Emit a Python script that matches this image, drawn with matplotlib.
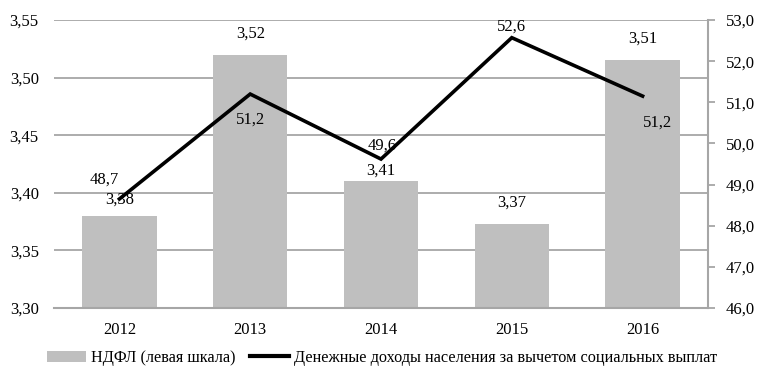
import matplotlib
matplotlib.use("Agg")
import matplotlib.pyplot as plt
from matplotlib.lines import Line2D
from matplotlib.patches import Patch

years = ["2012", "2013", "2014", "2015", "2016"]
ndfl = [3.38, 3.52, 3.41, 3.373, 3.515]
ndfl_labels = ["3,38", "3,52", "3,41", "3,37", "3,51"]
income = [48.65, 51.2, 49.62, 52.57, 51.15]
income_labels = ["48,7", "51,2", "49,6", "52,6", "51,2"]
left_ticks = [3.30, 3.35, 3.40, 3.45, 3.50, 3.55]
right_ticks = [46, 47, 48, 49, 50, 51, 52, 53]

plt.rcParams['font.family'] = ['Liberation Serif', 'DejaVu Serif']
plt.rcParams['font.size'] = 12

fig = plt.figure(figsize=(7.64, 3.80), dpi=100)
ax = fig.add_axes([54/764, 1 - 308/380, (708-54)/764, (308-20)/380])
x = list(range(len(years)))
grid_c = "#A6A6A6"

ax.bar(x, [v - 3.30 for v in ndfl], bottom=3.30, width=0.57, color="#BFBFBF", zorder=2)
ax.set_ylim(3.30, 3.55)
ax.set_xlim(-0.5, 4.5)
ax.set_yticks(left_ticks)
ax.set_yticklabels([f"{t:.2f}".replace(".", ",") for t in left_ticks])
ax.set_xticks(x)
ax.set_xticklabels(years)
ax.tick_params(axis="x", length=0, pad=10)
ax.tick_params(axis="y", length=0, pad=11)
for y in left_ticks[1:]:
    ax.axhline(y, color=grid_c, lw=1.3, zorder=1)
for s in ["top", "left", "right"]:
    ax.spines[s].set_visible(False)
ax.spines["bottom"].set_color(grid_c)
ax.spines["bottom"].set_linewidth(1.5)

# bar label offsets (pixels, centre of text above bar top)
bar_off = [16, 21, 11, 21, 22]
for xi, v, lab, off in zip(x, ndfl, ndfl_labels, bar_off):
    ax.annotate(lab, (xi, v), xytext=(0, off), textcoords="offset pixels",
                ha="center", va="center", zorder=5)

ax2 = ax.twinx()
ax2.plot(x, income, color="black", lw=2.6, zorder=4, solid_joinstyle="miter")
ax2.set_ylim(46, 53)
ax2.set_yticks(right_ticks)
ax2.set_yticklabels([f"{t:.1f}".replace(".", ",") for t in right_ticks])
ax2.tick_params(axis="y", length=5, width=1.3, color=grid_c, pad=8, direction="out")
for s in ["top", "left", "bottom"]:
    ax2.spines[s].set_visible(False)
ax2.spines["right"].set_color(grid_c)
ax2.spines["right"].set_linewidth(1.5)

line_off = [(-15, 19), (0, -26), (1, 13), (0, 11), (15, -27)]
for xi, v, lab, off in zip(x, income, income_labels, line_off):
    ax2.annotate(lab, (xi, v), xytext=off, textcoords="offset pixels",
                 ha="center", va="center", zorder=6)

handles = [Patch(facecolor="#BFBFBF", edgecolor="none"),
           Line2D([0], [0], color="black", lw=3)]
fig.legend(handles, ["НДФЛ (левая шкала)", "Денежные доходы населения за вычетом социальных выплат"],
           loc="center", bbox_to_anchor=(0.5, 1 - 358/380), ncol=2, frameon=False,
           handlelength=2.4, handleheight=0.7, columnspacing=0.9, handletextpad=0.3, fontsize=11.7)

fig.savefig("out.png", dpi=100)
